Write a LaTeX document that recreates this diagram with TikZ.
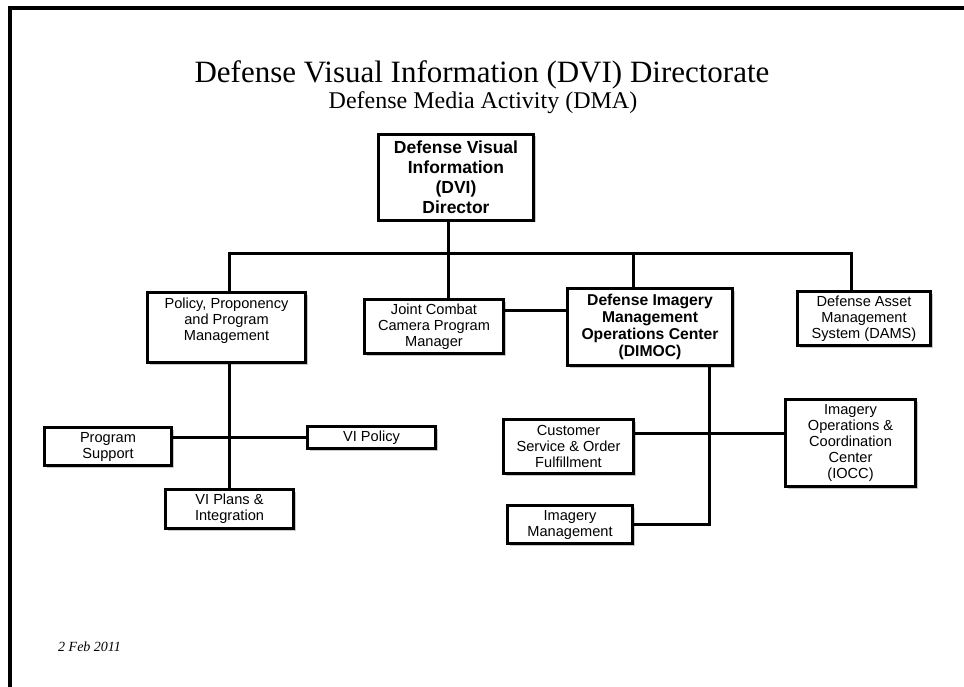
\documentclass[tikz,border=0pt]{standalone}
\usepackage{fontspec}
\setmainfont{Liberation Serif}
\newfontfamily\arialfont{Liberation Sans}
\usetikzlibrary{shadows}
\tikzset{
  orgbox/.style={draw=black, line width=3pt, fill=white, align=center, inner sep=0pt,
    font=\arialfont\fontsize{14.6}{16}\selectfont,
    drop shadow={opacity=0.3, shadow xshift=2pt, shadow yshift=-2pt, fill=black!70}},
  boldbox/.style={orgbox, font=\arialfont\bfseries\fontsize{15.7}{17}\selectfont},
  conn/.style={line width=3pt, line cap=butt, line join=miter},
}
\begin{document}
\begin{tikzpicture}[x=1pt,y=-1pt]
\useasboundingbox (0,0) rectangle (964,687);
\fill[white] (0,0) rectangle (964,687);
% frame
\draw[line width=4pt, line join=miter] (10,687) -- (10,8) -- (964,8);

% titles
\node[anchor=base, inner sep=0pt, font=\fontsize{31}{36}\selectfont] (title) at (482,83) {Defense Visual Information (DVI) Directorate};
\node[anchor=base, inner sep=0pt, font=\fontsize{24}{28}\selectfont] (subtitle) at (483,109) {Defense Media Activity (DMA)};
\node[anchor=base west, inner sep=0pt, font=\itshape\fontsize{14}{16}\selectfont] (date) at (58,651) {2 Feb 2011};

% boxes
\node[orgbox, font=\arialfont\bfseries\fontsize{17.5}{20}\selectfont, minimum width=155pt, minimum height=86pt] (dir) at (456,177.5) {Defense Visual\\Information\\(DVI)\\Director};
\node[orgbox, minimum width=158pt, minimum height=70pt] (pol) at (226.5,327.5) {Policy, Proponency\\and Program\\Management\\~};
\node[orgbox, minimum width=139pt, minimum height=54pt] (jcc) at (434,326.5) {Joint Combat\\Camera Program\\Manager};
\node[boldbox, minimum width=165pt, minimum height=77pt] (dimoc) at (650,327) {Defense Imagery\\Management\\Operations Center\\(DIMOC)};
\node[orgbox, minimum width=133pt, minimum height=54pt] (dams) at (864,318.5) {Defense Asset\\Management\\System (DAMS)};
\node[orgbox, minimum width=127pt, minimum height=38pt] (ps) at (108,446.5) {Program\\Support};
\node[orgbox, minimum width=128pt, minimum height=22pt] (vipol) at (371.5,437.5) {VI Policy};
\node[orgbox, minimum width=128pt, minimum height=39pt] (vip) at (229.5,509) {VI Plans \&\\Integration};
\node[orgbox, minimum width=130pt, minimum height=54pt] (cs) at (568.5,446.5) {Customer\\Service \& Order\\Fulfillment};
\node[orgbox, minimum width=130pt, minimum height=87pt] (iocc) at (850.5,443) {Imagery\\Operations \&\\Coordination\\Center\\(IOCC)};
\node[orgbox, minimum width=125pt, minimum height=38pt] (im) at (570,524.5) {Imagery\\Management};

% bus coordinates
\coordinate (busL) at (229.5,254);
\coordinate (busR) at (851,254);
\coordinate (stem) at (448,254);
\coordinate (dd) at (633,254);
\coordinate (dv) at (709,523);
\coordinate (ch) at (709,433);
\coordinate (ph) at (229.5,437);
\coordinate (jd) at (535,310);

% connectors
\draw[conn] (busL |- pol.north) -- (busL) -- (busR) -- (busR |- dams.north);
\draw[conn] (stem |- dir.south) -- (stem |- jcc.north);
\draw[conn] (dd) -- (dd |- dimoc.north);
\draw[conn] (jd -| jcc.east) -- (jd -| dimoc.west);
\draw[conn] (vip.north |- pol.south) -- (vip.north);
\draw[conn] (ph -| ps.east) -- (ph -| vipol.west);
\draw[conn] (dv |- dimoc.south) -- (im.east -| dv) -- (im.east);
\draw[conn] (ch -| cs.east) -- (ch -| iocc.west);
\end{tikzpicture}
\end{document}
